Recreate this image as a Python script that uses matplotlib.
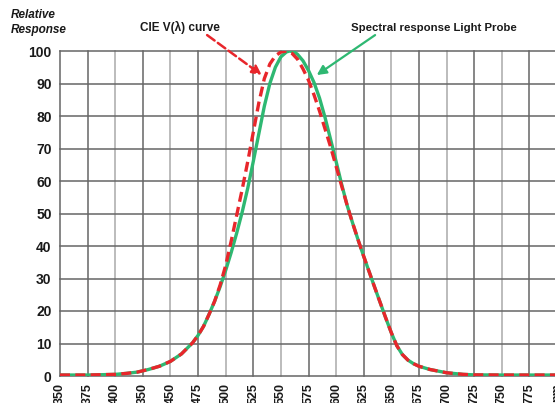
import matplotlib
matplotlib.use("Agg")
import matplotlib.pyplot as plt

plt.rcParams['font.family'] = ['DejaVu Sans Condensed', 'Liberation Sans', 'DejaVu Sans']

# CIE V(lambda) curve (red dashed)
cie_nm = [350, 375, 400, 410, 420, 430, 440, 450, 460, 470, 475, 480, 485, 490, 495, 500, 505,
          510, 515, 520, 525, 530, 535, 540, 545, 550, 555, 560, 565, 570, 575, 580, 585, 590,
          595, 600, 605, 610, 615, 620, 625, 630, 635, 640, 645, 650, 655, 660, 665, 670, 675,
          685, 700, 715, 725, 750, 775, 800]
cie_val = [0.3, 0.3, 0.5, 0.8, 1.2, 2, 3, 4.5, 6.8, 10.2, 12.5, 15.3, 19, 23, 28, 34, 41.5,
           49.5, 57.5, 66, 75, 84, 91.5, 96, 98.5, 99.7, 100, 99.3, 97.5, 94.5, 91, 86.5, 81.5, 76,
           70.5, 64.5, 58.5, 52.5, 47, 41.8, 36.8, 32, 27.2, 22.5, 17.8, 13.3, 9.3, 6.6, 4.9, 3.8, 3,
           2, 1, 0.5, 0.35, 0.3, 0.3, 0.3]

# spectral response of the light probe (green solid)
probe_nm = [350, 375, 400, 410, 420, 430, 440, 450, 460, 470, 475, 480, 485, 490, 495, 500, 505,
            510, 515, 520, 525, 530, 535, 540, 545, 550, 555, 558, 562, 565, 570, 575, 580, 585,
            590, 595, 600, 605, 610, 615, 620, 625, 630, 635, 640, 645, 650, 655, 660, 665, 670,
            675, 685, 700, 715, 725, 750, 775, 800]
probe_val = [0.3, 0.3, 0.5, 0.8, 1.2, 2, 3, 4.5, 6.8, 10.2, 12.5, 15.3, 19, 23, 27.5, 32.5, 38,
             44, 50.5, 57.8, 66, 74.5, 83, 90, 95, 98.2, 99.7, 100, 99.7, 99, 97, 94, 90.3, 85.5,
             79.5, 72.8, 66, 59, 52.5, 47, 41.8, 36.8, 32, 27.2, 22.5, 17.8, 13.3, 9.3, 6.6, 4.9, 3.8,
             3, 2, 1, 0.5, 0.35, 0.3, 0.3, 0.3]

x_ticks = [350, 375, 400, 425, 450, 475, 500, 525, 550, 575, 600, 625, 650, 675, 700, 725, 750, 775, 800]
x_labels = ['350', '375', '400', '350', '450', '475', '500', '525', '550', '575', '600', '625',
            '650', '675', '700', '725', '750', '775', 'nm']
y_ticks = [0, 10, 20, 30, 40, 50, 60, 70, 80, 90, 100]

red = '#e8262b'
green = '#2eb872'

fig = plt.figure(figsize=(5.55, 4.03), dpi=100)
ax = fig.add_axes([60/555, 27/403, 497/555, 325/403])

# grid
for x in x_ticks:
    c = '#aaaaaa' if (x % 50 == 0 and x != 350) else '#666666'
    ax.axvline(x, color=c, lw=1.1, zorder=1, clip_on=False)
for y in y_ticks:
    ax.axhline(y, color='#666666', lw=1.1, zorder=1, clip_on=False)

ax.plot(probe_nm, probe_val, color=green, lw=2.4, zorder=3)
ax.plot(cie_nm, cie_val, color=red, lw=2.4, ls=(0, (3, 1.6)), zorder=4)

ax.set_xlim(350, 800)
ax.set_ylim(0, 100)
for s in ax.spines.values():
    s.set_visible(False)
ax.set_xticks(x_ticks)
ax.set_xticklabels(x_labels, rotation=90, va='top')
ax.set_yticks(y_ticks)
ax.tick_params(length=0, labelsize=9, colors='#1a1a1a')
ax.tick_params(axis='y', pad=6, labelsize=10)
ax.tick_params(axis='x', pad=5)
for t in ax.get_xticklabels() + ax.get_yticklabels():
    t.set_fontweight('bold')

# annotations
ax.text(458.7, 107.1, 'CIE V(λ) curve', ha='center', va='center', fontsize=8.5,
        fontweight='bold', color='#1a1a1a', clip_on=False)
ax.annotate('', xy=(532.7, 92.6), xytext=(483.2, 104.9), annotation_clip=False,
            arrowprops=dict(arrowstyle='-|>', color=red, lw=1.8, ls='--', mutation_scale=14,
                            shrinkA=0, shrinkB=0))
ax.text(688.3, 107.1, 'Spectral response Light Probe', ha='center', va='center', fontsize=8.2,
        fontweight='bold', color='#1a1a1a', clip_on=False)
ax.annotate('', xy=(582.5, 92.6), xytext=(635.3, 104.9), annotation_clip=False,
            arrowprops=dict(arrowstyle='-|>', color=green, lw=1.6, mutation_scale=14,
                            shrinkA=0, shrinkB=0))

fig.text(11/555, 1 - 14.5/403, 'Relative', ha='left', va='center', fontsize=8.5,
         fontweight='bold', style='italic', color='#1a1a1a')
fig.text(11/555, 1 - 30/403, 'Response', ha='left', va='center', fontsize=8.5,
         fontweight='bold', style='italic', color='#1a1a1a')

fig.savefig('out.png', dpi=100)
